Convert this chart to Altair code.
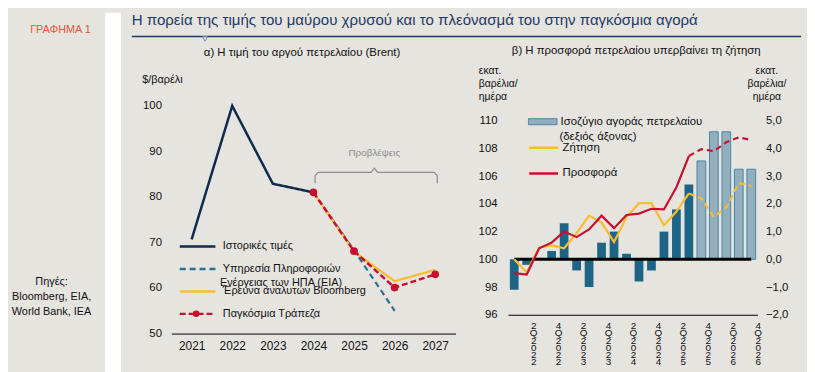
import altair as alt
import pandas as pd

BG = "#E6E4DF"
NAVY = "#0E2A4D"
TITLE_NAVY = "#1F3A68"
TEAL = "#2B6F93"
YELLOW = "#FBBD2E"
RED = "#C8102E"
DARKBAR = "#1D6486"
LIGHTBAR = "#93AEBC"
BARSTROKE = "#4A86A8"
GREY = "#8C8C8C"
INK = "#111111"
FONT = "Liberation Sans"

# ---------------- texts ----------------
main_title = "Η πορεία της τιμής του μαύρου χρυσού και το πλεόνασμά του στην παγκόσμια αγορά"
chart_tag = "ΓΡΑΦΗΜΑ  1"
sources_text = "Πηγές:\nBloomberg, EIA,\nWorld Bank, IEA"
subtitle_a = "α) Η τιμή του αργού πετρελαίου (Brent)"
subtitle_b = "β) Η προσφορά πετρελαίου υπερβαίνει τη ζήτηση"
unit_a = "$/βαρέλι"
unit_b = ["εκατ.", "βαρέλια/", "ημέρα"]
eia_second_line = "Ενέργειας των ΗΠΑ (EIA)"
bar_second_line = "(δεξιός άξονας)"

# ---------------- panel α data ----------------
years_hist = [2021, 2022, 2023, 2024]
brent_hist = [70.7, 100.0, 82.9, 81.0]
years_eia = [2024, 2025, 2026]
brent_eia = [81.0, 68.3, 55.0]
years_forecast = [2024, 2025, 2026, 2027]
brent_bloomberg = [81.0, 68.0, 61.5, 64.0]
brent_worldbank = [81.0, 68.1, 60.1, 63.0]
year_ticks = [2021, 2022, 2023, 2024, 2025, 2026, 2027]
price_ticks = [50, 60, 70, 80, 90, 100]
series_a = ["Ιστορικές τιμές",
            "Υπηρεσία Πληροφοριών",
            "Έρευνα αναλυτών Bloomberg",
            "Παγκόσμια Τράπεζα"]
colors_a = [NAVY, TEAL, YELLOW, RED]
dashes_a = [[1, 0], [6, 4], [1, 0], [6, 3]]
widths_a = [2.5, 2.2, 2.2, 2.5]

# forecast bracket annotation (data units)
bracket_year = [2024.04, 2024.04, 2024.12, 2025.42, 2025.5, 2025.58, 2026.97, 2027.05, 2027.05]
bracket_price = [83.0, 84.7, 85.4, 85.4, 86.3, 85.4, 85.4, 84.7, 83.0]
forecast_label = "Προβλέψεις"
forecast_label_year = 2025.5
forecast_label_price = 89.6

# ---------------- panel β data ----------------
quarters = ["1Q2022", "2Q2022", "3Q2022", "4Q2022",
            "1Q2023", "2Q2023", "3Q2023", "4Q2023",
            "1Q2024", "2Q2024", "3Q2024", "4Q2024",
            "1Q2025", "2Q2025", "3Q2025", "4Q2025",
            "1Q2026", "2Q2026", "3Q2026", "4Q2026"]
quarter_ticks = ["2Q2022", "4Q2022", "2Q2023", "4Q2023", "2Q2024",
                 "4Q2024", "2Q2025", "4Q2025", "2Q2026", "4Q2026"]
balance = [-1.1, -0.2, 0.05, 0.3, 1.3, -0.4, -1.0, 0.6, 1.0, 0.2,
           -0.8, -0.4, 1.0, 1.8, 2.7, 3.55, 4.6, 4.6, 3.25, 3.25]
demand = [100.0, 99.05, 100.85, 101.0, 100.8, 101.9, 103.15, 102.65, 101.25, 103.05,
          104.05, 104.05, 102.45, 103.45, 104.75, 104.4, 103.05, 103.75, 105.5, 105.3]
supply = [99.0, 98.9, 100.8, 101.2, 102.0, 101.6, 102.15, 103.15, 102.25, 103.2,
          103.3, 103.65, 103.6, 105.2, 107.45, 107.95, 107.8, 108.45, 108.8, 108.6]
n_actual_bars = 15
last_solid_index = 14
balance_ticks = [-2, -1, 0, 1, 2, 3, 4, 5]
volume_ticks = [96, 98, 100, 102, 104, 106, 108, 110]
bar_names = ["Ιστορικά στοιχεία", "Ισοζύγιο αγοράς πετρελαίου"]
line_names = ["Ζήτηση", "Προσφορά"]

ONE = alt.Data(values=[{}])

# ================= panel α =================
rows = []
for name, xs, ys in zip(series_a,
                        [years_hist, years_eia, years_forecast, years_forecast],
                        [brent_hist, brent_eia, brent_bloomberg, brent_worldbank]):
    for x, y in zip(xs, ys):
        rows.append({"series": name, "year": x, "price": y})
df_a = pd.DataFrame(rows)

scale_xa = alt.Scale(domain=[2020.5, 2027.5], nice=False, zero=False)
scale_ya = alt.Scale(domain=[50, 100], range=[324, 94], nice=False, zero=False)
xA = alt.X("year:Q", scale=scale_xa,
           axis=alt.Axis(values=year_ticks, format="d", title=None, ticks=False, grid=False,
                         domainColor="#000000", domainWidth=1, labelPadding=7, labelFontSize=12))
yA = alt.Y("price:Q", scale=scale_ya,
           axis=alt.Axis(values=price_ticks, title=unit_a, titleAngle=0, titleX=-30, titleY=67,
                         titleAlign="left", titleBaseline="middle", titleFontSize=11,
                         domain=False, ticks=False, grid=False, labelPadding=10, labelFontSize=11.5))

legend_a = alt.Legend(orient="none", legendX=7, legendY=229.5, title=None,
                      symbolType="stroke", symbolSize=1296, symbolStrokeWidth=2.5,
                      labelFontSize=11, labelOffset=6, clipHeight=13, rowPadding=9.7,
                      padding=0, labelLimit=300)
color_a = alt.Color("series:N", scale=alt.Scale(domain=series_a, range=colors_a), legend=legend_a)
dash_a = alt.StrokeDash("series:N", scale=alt.Scale(domain=series_a, range=dashes_a), legend=legend_a)

layers_a = []
for name, w in zip(series_a, widths_a):
    layers_a.append(
        alt.Chart(df_a).transform_filter(alt.datum.series == name)
        .mark_line(strokeWidth=w)
        .encode(x=xA, y=yA, color=color_a, strokeDash=dash_a)
    )

wb_points = alt.Chart(df_a[df_a.series == series_a[3]]).mark_point(
    filled=True, size=60, color=RED, opacity=1
).encode(x=alt.X("year:Q", scale=scale_xa), y=alt.Y("price:Q", scale=scale_ya))
wb_legend_dot = alt.Chart(ONE).mark_point(filled=True, size=45, color=RED, opacity=1).encode(
    x=alt.value(25), y=alt.value(304))

df_bracket = pd.DataFrame({"year": bracket_year, "price": bracket_price,
                           "step": list(range(len(bracket_year)))})
bracket = alt.Chart(df_bracket).mark_line(color=GREY, strokeWidth=1.2).encode(
    x=alt.X("year:Q", scale=scale_xa), y=alt.Y("price:Q", scale=scale_ya), order="step:Q")
bracket_text = alt.Chart(pd.DataFrame({"year": [forecast_label_year], "price": [forecast_label_price],
                                       "label": [forecast_label]})).mark_text(
    color=GREY, fontSize=10, font=FONT).encode(
    x=alt.X("year:Q", scale=scale_xa), y=alt.Y("price:Q", scale=scale_ya), text="label:N")

header_text = alt.Chart(ONE).mark_text(align="left", baseline="middle", font=FONT,
                                       fontSize=15.2, color=TITLE_NAVY).encode(
    x=alt.value(-40), y=alt.value(7.5), text=alt.value(main_title))
header_rule = alt.Chart(ONE).mark_rule(color=TITLE_NAVY, strokeWidth=1.4).encode(
    x=alt.value(-40), x2=alt.value(636), y=alt.value(24))
header_notch = alt.Chart(ONE).mark_point(shape="triangle-down", size=26, filled=True,
                                         fill=BG, stroke="#7088A8", strokeWidth=1,
                                         opacity=1).encode(x=alt.value(34), y=alt.value(26.5))
sub_a = alt.Chart(ONE).mark_text(align="center", baseline="middle", fontSize=11.5,
                                 color=INK).encode(
    x=alt.value(132), y=alt.value(41), text=alt.value(subtitle_a))
eia_line2 = alt.Chart(ONE).mark_text(align="left", baseline="middle", fontSize=11,
                                     color=INK).encode(
    x=alt.value(49), y=alt.value(273), text=alt.value(eia_second_line))

panel_a = alt.layer(*layers_a, wb_points, bracket, bracket_text,
                    header_rule, header_notch, header_text, sub_a, eia_line2,
                    wb_legend_dot).properties(width=287, height=324)

# ================= panel β =================
df_b = pd.DataFrame({"quarter": quarters, "balance": balance,
                     "bar_name": [bar_names[0] if i < n_actual_bars else bar_names[1]
                                  for i in range(len(quarters))]})

scale_xb = alt.Scale(domain=quarters, paddingInner=0.3, paddingOuter=0.15)
xB = alt.X("quarter:N", sort=quarters, scale=scale_xb,
           axis=alt.Axis(values=quarter_ticks, labelExpr="split(datum.label, '')", labelAngle=0,
                         labelBaseline="top", labelLineHeight=7.3, labelFontSize=10,
                         bandPosition=1, labelOffset=7, labelPadding=6, ticks=False,
                         domainColor="#000000", domainWidth=1, title=None,
                         labelOverlap=False, grid=False))
scale_bal = alt.Scale(domain=[-2, 5], range=[305, 109], nice=False, zero=False)
yBal = alt.Y("balance:Q", scale=scale_bal,
             axis=alt.Axis(orient="right", values=balance_ticks,
                           labelExpr="replace(format(datum.value, '.1f'), '.', ',')",
                           title=unit_b, titleAngle=0, titleX=9, titleY=53, titleAlign="center",
                           titleBaseline="top", titleLineHeight=13.5, titleFontSize=10.5,
                           domain=False, ticks=False, grid=False, labelPadding=8,
                           labelFontSize=11.5))

legend_bar = alt.Legend(values=[bar_names[1]], orient="none", legendX=20, legendY=104, title=None,
                        symbolType="M-1,-0.21L1,-0.21L1,0.21L-1,0.21Z", symbolSize=841,
                        symbolStrokeColor=BARSTROKE, symbolStrokeWidth=1,
                        labelFontSize=11.5, labelOffset=3, clipHeight=12, padding=0,
                        labelLimit=300)
fill_b = alt.Fill("bar_name:N", scale=alt.Scale(domain=bar_names, range=[DARKBAR, LIGHTBAR]),
                  legend=legend_bar)

bars_actual = alt.Chart(df_b.iloc[:n_actual_bars]).mark_bar().encode(
    x=xB, y=yBal, y2=alt.datum(0), fill=fill_b)
bars_fc = alt.Chart(df_b.iloc[n_actual_bars:]).mark_bar(stroke=BARSTROKE, strokeWidth=1).encode(
    x=alt.X("quarter:N", sort=quarters, scale=scale_xb), y=alt.Y("balance:Q", scale=scale_bal),
    y2=alt.datum(0), fill=fill_b)
df_zero = pd.DataFrame({"quarter": [quarters[0], quarters[-1]], "balance": [0, 0]})
zero_line = alt.Chart(df_zero).mark_line(color="#000000", strokeWidth=3).encode(
    x=alt.X("quarter:N", sort=quarters, scale=scale_xb), y=alt.Y("balance:Q", scale=scale_bal))

bars_layer = alt.layer(bars_actual, bars_fc, zero_line)

line_rows = []
for name, vals in zip(line_names, [demand, supply]):
    for i, (q, v) in enumerate(zip(quarters, vals)):
        if i <= last_solid_index:
            line_rows.append({"quarter": q, "volume": v, "line": name, "part": "solid"})
        if i >= last_solid_index:
            line_rows.append({"quarter": q, "volume": v, "line": name, "part": "dash"})
df_lines = pd.DataFrame(line_rows)

scale_vol = alt.Scale(domain=[96, 110], range=[305, 109], nice=False, zero=False)
yVol = alt.Y("volume:Q", scale=scale_vol,
             axis=alt.Axis(orient="left", values=volume_ticks, title=unit_b, titleAngle=0,
                           titleX=-30, titleY=53, titleAlign="left", titleBaseline="top",
                           titleLineHeight=13.5, titleFontSize=10.5, domain=False, ticks=False,
                           grid=False, labelPadding=11, labelFontSize=11.5))
legend_lines = alt.Legend(orient="none", legendX=20, legendY=130.3, title=None,
                          symbolType="stroke", symbolSize=841, symbolStrokeWidth=2.5,
                          clipHeight=12, rowPadding=14, padding=0, labelOffset=3,
                          labelFontSize=11.5)
stroke_b = alt.Stroke("line:N", scale=alt.Scale(domain=line_names, range=[YELLOW, RED]),
                      legend=legend_lines)

lines_solid = alt.Chart(df_lines[df_lines.part == "solid"]).mark_line(strokeWidth=2.2).encode(
    x=alt.X("quarter:N", sort=quarters, scale=scale_xb), y=yVol, stroke=stroke_b)
lines_dash = alt.Chart(df_lines[df_lines.part == "dash"]).mark_line(
    strokeWidth=2.2, strokeDash=[6, 4]).encode(
    x=alt.X("quarter:N", sort=quarters, scale=scale_xb), y=alt.Y("volume:Q", scale=scale_vol),
    stroke=stroke_b)
sub_b = alt.Chart(ONE).mark_text(align="center", baseline="middle", fontSize=11.5,
                                 color=INK).encode(
    x=alt.value(129.5), y=alt.value(39), text=alt.value(subtitle_b))
bar_line2 = alt.Chart(ONE).mark_text(align="left", baseline="middle", fontSize=11.5,
                                     color=INK).encode(
    x=alt.value(52), y=alt.value(125), text=alt.value(bar_second_line))

lines_layer = alt.layer(lines_solid, lines_dash, sub_b, bar_line2)

panel_b = alt.layer(bars_layer, lines_layer).resolve_scale(y="independent").properties(
    width=252, height=305)

# ================= sidebar and spacers =================
side = alt.layer(
    alt.Chart(ONE).mark_text(align="center", baseline="middle", font=FONT, fontSize=11,
                             color="#E8553E").encode(
        x=alt.value(53), y=alt.value(17), text=alt.value(chart_tag)),
    alt.Chart(ONE).mark_text(align="center", baseline="middle", fontSize=11, color=INK,
                             lineBreak="\n", lineHeight=15).encode(
        x=alt.value(44), y=alt.value(272), text=alt.value(sources_text)),
).properties(width=98, height=364)

strip = alt.Chart(ONE).mark_point(opacity=0).encode(
    x=alt.value(0), y=alt.value(0)).properties(
    width=16, height=364, view=alt.ViewBackground(fill="white", stroke=None))


def spacer(w):
    return alt.Chart(ONE).mark_point(opacity=0).encode(
        x=alt.value(0), y=alt.value(0)).properties(width=w, height=10)


chart = alt.hconcat(side, strip, spacer(51), panel_a, spacer(53), panel_b, spacer(50),
                    spacing=0, bounds="flush").resolve_scale(
    color="independent", strokeDash="independent", fill="independent", stroke="independent"
).properties(padding=0, background=BG).configure_view(stroke=None).configure_axis(
    labelFont=FONT, titleFont=FONT, labelColor=INK, titleColor=INK, titleFontWeight="normal"
).configure_legend(labelFont=FONT, labelColor=INK).configure_text(font=FONT)

chart.save("out.html", embed_options={"renderer": "svg", "actions": False})
